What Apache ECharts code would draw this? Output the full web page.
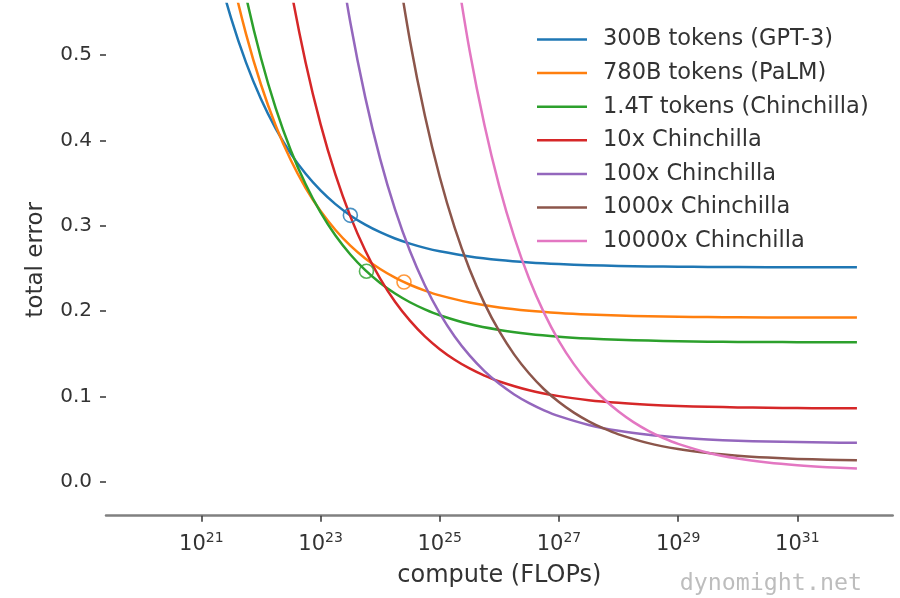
<!DOCTYPE html>
<html>
<head>
<meta charset="utf-8">
<script src="https://cdn.jsdelivr.net/npm/echarts@6/dist/echarts.min.js"></script>
<style>
  html, body { margin: 0; padding: 0; background: #ffffff; }
  #chart { width: 900px; height: 598px; }
</style>
</head>
<body>
<div id="chart"></div>
<script>
// ---- data (x = log10 of compute in FLOPs, y = total error) ----
const seriesNames = [
  '300B tokens (GPT-3)',
  '780B tokens (PaLM)',
  '1.4T tokens (Chinchilla)',
  '10x Chinchilla',
  '100x Chinchilla',
  '1000x Chinchilla',
  '10000x Chinchilla'
];

const x300B = [21, 21.25, 21.5, 21.75, 22, 22.25, 22.5, 22.75, 23, 23.25, 23.5, 23.75, 24, 24.25, 24.5, 24.75, 25, 25.5, 26, 26.5, 27, 27.5, 28, 28.5, 29, 29.5, 30, 31, 32];
const y300B = [0.6832, 0.6064, 0.5432, 0.4913, 0.4486, 0.4135, 0.3846, 0.3609, 0.3414, 0.3253, 0.3121, 0.3013, 0.2924, 0.2850, 0.2790, 0.2740, 0.2700, 0.2639, 0.2597, 0.2569, 0.2550, 0.2538, 0.2529, 0.2523, 0.2519, 0.2517, 0.2515, 0.2513, 0.2512];

const x780B = [21, 21.25, 21.5, 21.75, 22, 22.25, 22.5, 22.75, 23, 23.25, 23.5, 23.75, 24, 24.25, 24.5, 24.75, 25, 25.5, 26, 26.5, 27, 27.5, 28, 28.5, 29, 29.5, 30, 31, 32];
const y780B = [0.7904, 0.6840, 0.5966, 0.5247, 0.4656, 0.4170, 0.3770, 0.3442, 0.3172, 0.2950, 0.2767, 0.2617, 0.2493, 0.2392, 0.2308, 0.2240, 0.2183, 0.2099, 0.2041, 0.2003, 0.1977, 0.1959, 0.1947, 0.1939, 0.1933, 0.1930, 0.1927, 0.1924, 0.1923];

const x1_4T = [21.25, 21.5, 21.75, 22, 22.25, 22.5, 22.75, 23, 23.25, 23.5, 23.75, 24, 24.25, 24.5, 24.75, 25, 25.5, 26, 26.5, 27, 27.5, 28, 28.5, 29, 29.5, 30, 30.5, 31, 31.5, 32];
const y1_4T = [0.7632, 0.6565, 0.5688, 0.4967, 0.4374, 0.3886, 0.3486, 0.3156, 0.2885, 0.2663, 0.2479, 0.2329, 0.2205, 0.2103, 0.2020, 0.1951, 0.1847, 0.1778, 0.1731, 0.1699, 0.1677, 0.1662, 0.1653, 0.1646, 0.1641, 0.1638, 0.1636, 0.1635, 0.1634, 0.1633];

const x10x = [22.25, 22.5, 22.75, 23, 23.25, 23.5, 23.75, 24, 24.25, 24.5, 24.75, 25, 25.25, 25.5, 25.75, 26, 26.5, 27, 27.5, 28, 28.5, 29, 29.5, 30, 30.5, 31, 31.5, 32];
const y10x = [0.6856, 0.5789, 0.4912, 0.4191, 0.3598, 0.3110, 0.2710, 0.2380, 0.2109, 0.1887, 0.1703, 0.1553, 0.1429, 0.1327, 0.1243, 0.1174, 0.1071, 0.1002, 0.0955, 0.0923, 0.0901, 0.0886, 0.0877, 0.0870, 0.0865, 0.0862, 0.0860, 0.0859];

const x100x = [23.25, 23.5, 23.75, 24, 24.25, 24.5, 24.75, 25, 25.25, 25.5, 25.75, 26, 26.25, 26.5, 26.75, 27, 27.5, 28, 28.5, 29, 29.5, 30, 30.5, 31, 31.5, 32];
const y100x = [0.6449, 0.5382, 0.4505, 0.3784, 0.3191, 0.2703, 0.2303, 0.1973, 0.1702, 0.1480, 0.1296, 0.1146, 0.1022, 0.0920, 0.0836, 0.0767, 0.0664, 0.0595, 0.0548, 0.0516, 0.0494, 0.0479, 0.0470, 0.0463, 0.0458, 0.0455];

const x1000x = [24.25, 24.5, 24.75, 25, 25.25, 25.5, 25.75, 26, 26.25, 26.5, 26.75, 27, 27.25, 27.5, 27.75, 28, 28.5, 29, 29.5, 30, 30.5, 31, 31.5, 32];
const y1000x = [0.6236, 0.5169, 0.4292, 0.3571, 0.2978, 0.2490, 0.2090, 0.1760, 0.1489, 0.1267, 0.1083, 0.0933, 0.0809, 0.0707, 0.0623, 0.0554, 0.0451, 0.0382, 0.0335, 0.0303, 0.0281, 0.0266, 0.0257, 0.0250];

const x10000x = [25.25, 25.5, 25.75, 26, 26.25, 26.5, 26.75, 27, 27.25, 27.5, 27.75, 28, 28.25, 28.5, 28.75, 29, 29.5, 30, 30.5, 31, 31.5, 32];
const y10000x = [0.6124, 0.5057, 0.4180, 0.3459, 0.2866, 0.2378, 0.1978, 0.1648, 0.1377, 0.1155, 0.0971, 0.0821, 0.0697, 0.0595, 0.0511, 0.0442, 0.0339, 0.0270, 0.0223, 0.0191, 0.0169, 0.0154];

// model points (GPT-3, PaLM, Chinchilla)
const markerX = [23.50, 24.40, 23.77];
const markerY = [0.3122, 0.2340, 0.2467];
const markerSeries = [0, 1, 2];

// tick labels
const xTickExponents = [21, 23, 25, 27, 29, 31];
const yTickValues = [0.0, 0.1, 0.2, 0.3, 0.4, 0.5];

// ---- chart ----
const colors = ['#1f77b4', '#ff7f0e', '#2ca02c', '#d62728', '#9467bd', '#8c564b', '#e377c2'];
const xs = [x300B, x780B, x1_4T, x10x, x100x, x1000x, x10000x];
const ys = [y300B, y780B, y1_4T, y10x, y100x, y1000x, y10000x];
const FONT = 'DejaVu Sans';

const pair = (xa, ya) => xa.map((v, i) => [v, ya[i]]);

const series = seriesNames.map((name, i) => ({
  name: name,
  type: 'line',
  data: pair(xs[i], ys[i]),
  showSymbol: false,
  smooth: 0.3,
  clip: true,
  lineStyle: { color: colors[i], width: 2.5, join: 'round' },
  itemStyle: { color: colors[i] },
  emphasis: { disabled: true },
  z: 2 + i
}));

markerX.forEach((mx, j) => {
  const c = colors[markerSeries[j]];
  series.push({
    name: 'marker' + j,
    type: 'scatter',
    data: [[mx, markerY[j]]],
    symbol: 'circle',
    symbolSize: 14,
    itemStyle: { color: 'rgba(0,0,0,0)', borderColor: c, borderWidth: 1.6 },
    emphasis: { disabled: true },
    z: 20
  });
});

const chart = echarts.init(document.getElementById('chart'), null, { renderer: 'canvas' });
chart.setOption({
  animation: false,
  backgroundColor: '#ffffff',
  color: colors,
  grid: { left: 106, right: 7.3, top: 4, bottom: 82.3, containLabel: false },
  legend: {
    data: seriesNames,
    orient: 'vertical',
    left: 537,
    top: 28,
    padding: 0,
    icon: 'rect',
    itemWidth: 50,
    itemHeight: 2.5,
    itemGap: 10.6,
    selectedMode: false,
    textStyle: { fontFamily: FONT, fontSize: 22.5, color: '#333', lineHeight: 22, padding: [0, 0, 0, 11] }
  },
  xAxis: {
    type: 'value',
    min: 19.4,
    max: 32.6,
    name: 'compute (FLOPs)',
    nameLocation: 'middle',
    nameGap: 48,
    nameTextStyle: { fontFamily: FONT, fontSize: 24, color: '#333' },
    axisLine: { show: true, onZero: false, lineStyle: { color: '#808080', width: 2.5 } },
    axisTick: { show: true, customValues: xTickExponents, length: 6, lineStyle: { color: '#333', width: 1.5 } },
    axisLabel: {
      customValues: xTickExponents,
      margin: 16,
      formatter: (v) => '{b|10}{s|' + Math.round(v) + '}',
      rich: {
        b: { fontFamily: FONT, fontSize: 21, color: '#333', lineHeight: 26 },
        s: { fontFamily: FONT, fontSize: 14, color: '#333', lineHeight: 14, verticalAlign: 'top' }
      }
    },
    splitLine: { show: false }
  },
  yAxis: {
    type: 'value',
    min: -0.04,
    max: 0.56,
    name: 'total error',
    nameLocation: 'middle',
    nameGap: 58,
    nameTextStyle: { fontFamily: FONT, fontSize: 23, color: '#333' },
    axisLine: { show: false, onZero: false },
    axisTick: { show: true, customValues: yTickValues, length: 6, lineStyle: { color: '#333', width: 1.5 } },
    axisLabel: {
      customValues: yTickValues,
      margin: 14,
      fontFamily: FONT, fontSize: 20, color: '#333',
      formatter: (v) => v.toFixed(1)
    },
    splitLine: { show: false }
  },
  graphic: [{
    type: 'text',
    right: 38,
    top: 572,
    style: { text: 'dynomight.net', font: '23.3px "DejaVu Sans Mono"', fill: '#bdbdbd' },
    silent: true
  }],
  series: series
});
</script>
</body>
</html>
